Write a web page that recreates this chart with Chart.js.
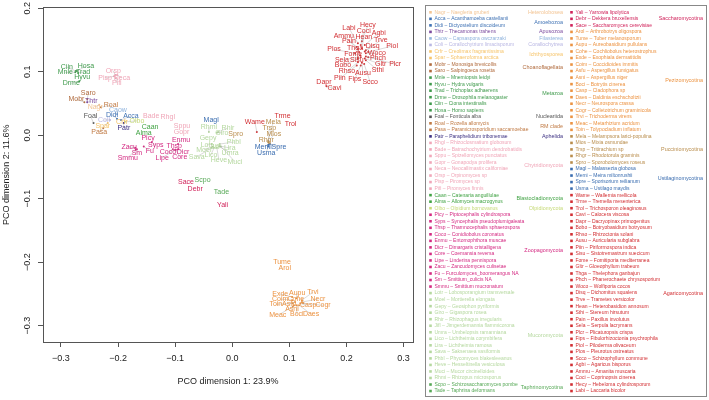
<!DOCTYPE html>
<html>
<head>
<meta charset="utf-8">
<script src="https://cdn.jsdelivr.net/npm/chart.js@4"></script>
<style>
html, body { margin: 0; padding: 0; background: #fff; }
canvas { display: block; }
</style>
</head>
<body>
<canvas id="pco" width="709" height="400"></canvas>
<script>
const FONT = "'Liberation Sans', Arial, Helvetica, sans-serif";

// taxonomic groups in legend order, with their colours
const groups = ["Heterolobosea", "Amoebozoa", "Apusozoa", "Filasterea", "Corallochytrea", "Ichthyosporea",
  "Choanoflagellata", "Metazoa", "Nucleariida", "RM clade", "Aphelida", "Chytridiomycota",
  "Blastocladiomycota", "Olpidiomycota", "Zoopagomycota", "Mucoromycota", "Taphrinomycotina",
  "Saccharomycotina", "Pezizomycotina", "Pucciniomycotina", "Ustilaginomycotina", "Agaricomycotina"];
const groupColors = ["#f3c595", "#3f72b4", "#7a4a9e", "#8fb3dd", "#b9b7e3", "#f6c46a",
  "#b06a3c", "#3f9a4c", "#555555", "#c07a44", "#3b2f80", "#f0a6b8",
  "#40a243", "#c6da78", "#d42a82", "#b5d89f", "#56a856",
  "#d0225a", "#ec9342", "#b98d4c", "#3a6db0", "#d22f33"];

// taxa (legend order: first 59 = left column, rest = right column)
const abbr = ["Nagr", "Acca", "Didi", "Thtr", "Caow", "Coli", "Crfr", "Spar", "Mobr", "Saro",
  "Mnle", "Hyvu", "Trad", "Drme", "Ciin", "Hosa", "Foal", "Roal", "Pasa", "Patr",
  "Rhgl", "Bade", "Sppu", "Gopr", "Neca", "Orsp", "Pisp", "Pifi", "Caan", "Alma",
  "Olbo", "Picy", "Syps", "Thsp", "Coco", "Enmu", "Dicr", "Core", "Lipe", "Zacu",
  "Fu", "Sm", "Smmu", "Lotr", "Moel", "Gepy", "Giro", "Rhir", "Jifl", "Umra",
  "Lico", "Lira", "Sava", "Phbl", "Heve", "Muci", "Rhmi", "Scpo", "Tade",
  "Yali", "Debr", "Sace", "Arol", "Tume", "Aupu", "Cohe", "Exde", "Coim", "Asfu",
  "Asni", "Boci", "Casp", "Daes", "Necr", "Cogr", "Trvi", "Meac", "Toin", "Mela",
  "Mios", "Trsp", "Rhgr", "Spro", "Magl", "Memi", "Spre", "Usma", "Wame", "Trme",
  "Trol", "Cavi", "Dapr", "Bobo", "Rhso", "Ausu", "Piin", "Sisu", "Fome", "Gltr",
  "Thga", "Phch", "Woco", "Disq", "Trve", "Hean", "Sthi", "Pain", "Sela", "Plcr",
  "Fips", "Piol", "Plos", "Scco", "Agbi", "Ammu", "Coci", "Hecy", "Labi"];
const fullName = ["Naegleria gruberi", "Acanthamoeba castellanii", "Dictyostelium discoideum", "Thecamonas trahens",
  "Capsaspora owczarzaki", "Corallochytrium limacisporum", "Creolimax fragrantissima", "Sphaeroforma arctica",
  "Monosiga brevicollis", "Salpingoeca rosetta", "Mnemiopsis leidyi", "Hydra vulgaris", "Trichoplax adhaerens",
  "Drosophila melanogaster", "Ciona intestinalis", "Homo sapiens", "Fonticula alba", "Rozella allomycis",
  "Paramicrosporidium saccamoebae", "Paraphelidium tribonemae", "Rhizoclosmatium globosum",
  "Batrachochytrium dendrobatidis", "Spizellomyces punctatus", "Gonapodya prolifera", "Neocallimastix californiae",
  "Orpinomyces sp", "Piromyces sp", "Piromyces finnis", "Catenaria anguillulae", "Allomyces macrogynus",
  "Olpidium bornovanus", "Piptocephalis cylindrospora", "Syncephalis pseudoplumigaleata",
  "Thamnocephalis sphaerospora", "Conidiobolus coronatus", "Entomophthora muscae", "Dimargaris cristalligena",
  "Coemansia reversa", "Linderina pennispora", "Zancudomyces culisetae", "Furculomyces_boomerangus NA",
  "Smittium_culicis NA", "Smittium mucronatum", "Lobosporangium transversale", "Mortierella elongata",
  "Geosiphon pyriformis", "Gigaspora rosea", "Rhizophagus irregularis", "Jimgerdemannia flammicorona",
  "Umbelopsis ramanniana", "Lichtheimia corymbifera", "Lichtheimia ramosa", "Saksenaea vasiformis",
  "Phycomyces blakesleeanus", "Hesseltinella vesiculosa", "Mucor circinelloides", "Rhizopus microsporus",
  "Schizosaccharomyces pombe", "Taphrina deformans",
  "Yarrowia lipolytica", "Dekkera bruxellensis", "Saccharomyces cerevisiae", "Arthrobotrys oligospora",
  "Tuber melanosporum", "Aureobasidium pullulans", "Cochliobolus heterostrophus", "Exophiala dermatitidis",
  "Coccidioides immitis", "Aspergillus fumigatus", "Aspergillus niger", "Botrytis cinerea", "Cladophora sp",
  "Daldinia eschscholtzii", "Neurospora crassa", "Colletotrichum graminicola", "Trichoderma virens",
  "Metarhizium acridum", "Tolypocladium inflatum", "Melampsora larici-populina", "Mixia osmundae",
  "Tritirachium sp", "Rhodotorula graminis", "Sporobolomyces roseus", "Malassezia globosa",
  "Meira miltonrushii", "Sporisorium reilianum", "Ustilago maydis", "Wallemia mellicola",
  "Tremella mesenterica", "Trichosporon oleaginosus", "Calocera viscosa", "Dacryopinax primogenitus",
  "Botryobasidium botryosum", "Rhizoctonia solani", "Auricularia subglabra", "Piriformospora indica",
  "Sistotremastrum suecicum", "Fomitiporia mediterranea", "Gloeophyllum trabeum", "Thelephora ganbajun",
  "Phanerochaete chrysosporium", "Wolfiporia cocos", "Dichomitus squalens", "Trametes versicolor",
  "Heterobasidion annosum", "Stereum hirsutum", "Paxillus involutus", "Serpula lacrymans",
  "Plicaturopsis crispa", "Fibulorhizoctonia psychrophila", "Piloderma olivaceum", "Pleurotus ostreatus",
  "Schizophyllum commune", "Agaricus bisporus", "Amanita muscaria", "Coprinopsis cinerea",
  "Hebeloma cylindrosporum", "Laccaria bicolor"];
const groupOf = ["Heterolobosea", "Amoebozoa", "Amoebozoa", "Apusozoa", "Filasterea", "Corallochytrea",
  "Ichthyosporea", "Ichthyosporea", "Choanoflagellata", "Choanoflagellata",
  "Metazoa", "Metazoa", "Metazoa", "Metazoa", "Metazoa", "Metazoa", "Nucleariida", "RM clade", "RM clade", "Aphelida",
  "Chytridiomycota", "Chytridiomycota", "Chytridiomycota", "Chytridiomycota", "Chytridiomycota", "Chytridiomycota",
  "Chytridiomycota", "Chytridiomycota", "Blastocladiomycota", "Blastocladiomycota", "Olpidiomycota",
  "Zoopagomycota", "Zoopagomycota", "Zoopagomycota", "Zoopagomycota", "Zoopagomycota", "Zoopagomycota",
  "Zoopagomycota", "Zoopagomycota", "Zoopagomycota", "Zoopagomycota", "Zoopagomycota", "Zoopagomycota",
  "Mucoromycota", "Mucoromycota", "Mucoromycota", "Mucoromycota", "Mucoromycota", "Mucoromycota", "Mucoromycota",
  "Mucoromycota", "Mucoromycota", "Mucoromycota", "Mucoromycota", "Mucoromycota", "Mucoromycota", "Mucoromycota",
  "Taphrinomycotina", "Taphrinomycotina",
  "Saccharomycotina", "Saccharomycotina", "Saccharomycotina",
  "Pezizomycotina", "Pezizomycotina", "Pezizomycotina", "Pezizomycotina", "Pezizomycotina", "Pezizomycotina",
  "Pezizomycotina", "Pezizomycotina", "Pezizomycotina", "Pezizomycotina", "Pezizomycotina", "Pezizomycotina",
  "Pezizomycotina", "Pezizomycotina", "Pezizomycotina", "Pezizomycotina",
  "Pucciniomycotina", "Pucciniomycotina", "Pucciniomycotina", "Pucciniomycotina", "Pucciniomycotina",
  "Ustilaginomycotina", "Ustilaginomycotina", "Ustilaginomycotina", "Ustilaginomycotina",
  "Agaricomycotina", "Agaricomycotina", "Agaricomycotina", "Agaricomycotina", "Agaricomycotina", "Agaricomycotina",
  "Agaricomycotina", "Agaricomycotina", "Agaricomycotina", "Agaricomycotina", "Agaricomycotina", "Agaricomycotina",
  "Agaricomycotina", "Agaricomycotina", "Agaricomycotina", "Agaricomycotina", "Agaricomycotina", "Agaricomycotina",
  "Agaricomycotina", "Agaricomycotina", "Agaricomycotina", "Agaricomycotina", "Agaricomycotina", "Agaricomycotina",
  "Agaricomycotina", "Agaricomycotina", "Agaricomycotina", "Agaricomycotina", "Agaricomycotina", "Agaricomycotina",
  "Agaricomycotina"];

// PCO coordinates (dimension 1, dimension 2)
const pcoX = [-0.233, -0.195, -0.202, -0.254, -0.202, -0.214, -0.195, -0.218, -0.259, -0.254,
  -0.275, -0.268, -0.270, -0.268, -0.274, -0.272, -0.243, -0.230, -0.226, -0.190,
  -0.113, -0.142, -0.088, -0.089, -0.202, -0.205, -0.207, -0.204, -0.144, -0.155,
  -0.188, -0.144, -0.141, -0.100, -0.104, -0.095, -0.095, -0.099, -0.100, -0.170,
  -0.155, -0.167, -0.169, -0.036, -0.034, -0.039, -0.027, -0.025, -0.030, -0.023,
  -0.032, -0.022, -0.036, -0.022, -0.027, -0.020, -0.041, -0.052, -0.019,
  -0.017, -0.065, -0.081, 0.092, 0.087, 0.112, 0.113, 0.105, 0.105, 0.110,
  0.108, 0.113, 0.119, 0.117, 0.122, 0.124, 0.122, 0.106, 0.106, 0.063,
  0.064, 0.063, 0.063, 0.006, -0.037, 0.063, 0.066, 0.063, 0.043, 0.088,
  0.102, 0.165, 0.164, 0.220, 0.220, 0.227, 0.218, 0.225, 0.224, 0.232,
  0.222, 0.234, 0.234, 0.232, 0.234, 0.227, 0.234, 0.220, 0.220, 0.238,
  0.225, 0.238, 0.215, 0.231, 0.232, 0.218, 0.225, 0.227, 0.220];
const pcoY = [0.048, 0.024, 0.026, 0.052, 0.033, 0.024, 0.021, 0.019, 0.052, 0.057,
  0.099, 0.095, 0.098, 0.085, 0.101, 0.101, 0.019, 0.044, 0.011, 0.019,
  0.029, 0.030, 0.015, 0.005, 0.095, 0.095, 0.093, 0.090, 0.012, 0.004,
  0.021, -0.009, -0.011, -0.018, -0.022, -0.014, -0.022, -0.023, -0.023, -0.020,
  -0.018, -0.022, -0.023, -0.014, -0.018, -0.009, 0.004, 0.005, -0.017, -0.018,
  -0.020, -0.017, -0.020, -0.014, -0.020, -0.018, 0.005, -0.071, -0.089,
  -0.110, -0.085, -0.074, -0.209, -0.200, -0.257, -0.260, -0.255, -0.260, -0.263,
  -0.268, -0.268, -0.265, -0.268, -0.263, -0.265, -0.260, -0.270, -0.265, -0.009,
  -0.011, -0.011, -0.012, 0.002, 0.024, -0.015, -0.014, -0.018, 0.005, 0.030,
  0.017, 0.077, 0.079, 0.120, 0.115, 0.114, 0.110, 0.123, 0.126, 0.121,
  0.131, 0.124, 0.129, 0.132, 0.134, 0.137, 0.118, 0.136, 0.123, 0.123,
  0.110, 0.131, 0.129, 0.112, 0.142, 0.139, 0.142, 0.148, 0.145];

const xTicks = [-0.3, -0.2, -0.1, 0.0, 0.1, 0.2, 0.3];
const yTicks = [-0.3, -0.2, -0.1, 0.0, 0.1, 0.2];

// where the repelled text labels sit relative to their point (pixels, layout only)
const nudge = {
  Nagr: [-4, 2], Acca: [10, -4], Didi: [-5, -4], Thtr: [4, -1], Caow: [1, -4], Coli: [-6, 0], Crfr: [1, 0],
  Spar: [-5, 3], Mobr: [-8, -3], Saro: [1, -6], Mnle: [-10, 0], Hyvu: [3, 2], Trad: [5, -1], Drme: [-8, 2],
  Ciin: [-9, -4], Hosa: [9, -5], Foal: [-3, -7], Roal: [10, -2], Pasa: [-4, 4], Patr: [0, 5],
  Neca: [5, 3], Orsp: [-2, -4], Pisp: [-9, 2], Pifi: [1, 5], Olbo: [12, -1],
  Picy: [-2, -3], Syps: [4, 3], Thsp: [-1, -1], Coco: [-5, 3], Enmu: [3, -4], Dicr: [5, 3], Core: [4, 7],
  Lipe: [-13, 8], Zacu: [-6, -1], Fu: [6, 4], Sm: [0, 4], Smmu: [-8, 8],
  Lotr: [-5, 1], Moel: [-9, 3], Gepy: [-2, -3], Giro: [5, 0], Rhir: [10, -4], Jifl: [0, 1], Umra: [11, 6],
  Lico: [-3, 7], Lira: [10, 2], Sava: [-15, 9], Phbl: [14, -2], Heve: [2, 12], Muci: [14, 15], Rhmi: [0, -5],
  Aupu: [1, -5], Cohe: [-1, -1], Exde: [-12, -3], Coim: [-12, -1], Asfu: [-6, 2], Asni: [-2, 4], Boci: [0, 9],
  Casp: [8, 2], Daes: [12, 9], Necr: [16, -3], Cogr: [20, 2], Trvi: [11, -8], Meac: [-15, 9], Toin: [-17, 1],
  Mela: [5, -19], Mios: [5, -8], Trsp: [1, -14], Rhgr: [-2, -3], Memi: [-5, 2], Spre: [9, 3], Usma: [-2, 6],
  Wame: [-2, -10], Cavi: [8, 2], Dapr: [-2, -3], Bobo: [-15, 6], Rhso: [-11, 9], Ausu: [1, 10], Piin: [-17, 13],
  Sisu: [-4, 3], Fome: [-7, -1], Gltr: [16, 6], Thga: [-4, -4], Phch: [12, 2], Woco: [11, 0], Disq: [8, -5],
  Trve: [15, -10], Hean: [2, -11], Sthi: [12, 10], Pain: [-9, -8], Sela: [-16, 3], Plcr: [27, 7], Fips: [-6, 14],
  Piol: [24, -6], Plos: [-21, -4], Scco: [6, 18], Agbi: [14, -12], Ammu: [-13, -11], Coci: [3, -14],
  Hecy: [6, -16], Labi: [-9, -15]
};

const colorOf = g => groupColors[groups.indexOf(g)];

const datasets = groups.map(g => {
  const idx = abbr.map((a, i) => i).filter(i => groupOf[i] === g);
  return {
    label: g,
    taxa: idx,
    data: idx.map(i => ({ x: pcoX[i], y: pcoY[i] })),
    backgroundColor: colorOf(g),
    borderWidth: 0,
    pointRadius: idx.map(i => {
      const n = nudge[abbr[i]];
      return n && Math.hypot(n[0], n[1]) >= 4 ? 1 : 0;
    })
  };
});

const fmt = v => (Math.abs(v) < 1e-9 ? "0.0" : Number(v).toFixed(1)).replace("-", "\u2212");

// text labels + connector lines
const pointLabels = {
  id: "pointLabels",
  afterDatasetsDraw(chart) {
    const ctx = chart.ctx;
    ctx.save();
    chart.data.datasets.forEach((ds, d) => {
      const meta = chart.getDatasetMeta(d);
      meta.data.forEach((el, k) => {
        const i = ds.taxa[k];
        const n = nudge[abbr[i]] || [0, 0];
        if (Math.hypot(n[0], n[1]) >= 4) {
          ctx.strokeStyle = "rgba(150,150,150,0.6)";
          ctx.lineWidth = 0.6;
          ctx.beginPath();
          ctx.moveTo(el.x, el.y);
          ctx.lineTo(el.x + n[0], el.y + n[1]);
          ctx.stroke();
        }
      });
    });
    ctx.font = "7px " + FONT;
    ctx.textAlign = "center";
    ctx.textBaseline = "middle";
    chart.data.datasets.forEach((ds, d) => {
      const meta = chart.getDatasetMeta(d);
      meta.data.forEach((el, k) => {
        const i = ds.taxa[k];
        const n = nudge[abbr[i]] || [0, 0];
        ctx.fillStyle = ds.backgroundColor;
        ctx.fillText(abbr[i], el.x + n[0], el.y + n[1]);
      });
    });
    ctx.restore();
  }
};

// box round the plot region
const plotBox = {
  id: "plotBox",
  afterDraw(chart) {
    const { left, top, right, bottom } = chart.chartArea;
    const ctx = chart.ctx;
    ctx.save();
    ctx.strokeStyle = "#555";
    ctx.lineWidth = 1;
    ctx.strokeRect(Math.round(left) + 0.5, Math.round(top) + 0.5, Math.round(right - left), Math.round(bottom - top));
    ctx.restore();
  }
};

// two-column legend with group names
const sideLegend = {
  id: "sideLegend",
  afterDraw(chart) {
    const ctx = chart.ctx;
    const perCol = 59;
    const rowH = 6.53, y0 = 12.3;
    const cols = [{ mark: 430.5, right: 563 }, { mark: 571.5, right: 703 }];
    ctx.save();
    ctx.strokeStyle = "#888";
    ctx.lineWidth = 1;
    ctx.strokeRect(425.5, 5.5, 281, 391);
    ctx.font = "5px " + FONT;
    ctx.textBaseline = "middle";
    abbr.forEach((a, i) => {
      const c = cols[Math.floor(i / perCol)];
      const y = y0 + (i % perCol) * rowH;
      const col = colorOf(groupOf[i]);
      ctx.fillStyle = col;
      ctx.fillRect(c.mark - 1.3, y - 1.3, 2.6, 2.6);
      ctx.textAlign = "left";
      ctx.fillText(a + " \u2013 " + fullName[i], c.mark + 4, y);
    });
    ctx.font = "5.4px " + FONT;
    ctx.textAlign = "right";
    groups.forEach((g, gi) => {
      const rows = abbr.map((a, i) => i).filter(i => groupOf[i] === g);
      const c = cols[Math.floor(rows[0] / perCol)];
      const mid = rows.reduce((s, i) => s + (i % perCol), 0) / rows.length;
      ctx.fillStyle = groupColors[gi];
      ctx.fillText(g, c.right, y0 + mid * rowH);
    });
    ctx.restore();
  }
};

new Chart(document.getElementById("pco"), {
  type: "scatter",
  data: { datasets },
  options: {
    responsive: false,
    animation: false,
    layout: { padding: { top: 6, right: 296, left: 0, bottom: 0 } },
    plugins: { legend: { display: false }, tooltip: { enabled: false } },
    scales: {
      x: {
        type: "linear",
        min: -0.3315,
        max: 0.3165,
        afterFit: s => { s.height = 58; },
        afterBuildTicks: s => { s.ticks = xTicks.map(v => ({ value: v })); },
        grid: { drawOnChartArea: false, tickLength: 5, color: "#555" },
        border: { color: "#555" },
        ticks: { padding: 6, color: "#222", font: { size: 9, family: FONT }, callback: fmt, maxRotation: 0, autoSkip: false },
        title: { display: true, text: "PCO dimension 1: 23.9%", color: "#222", font: { size: 9, family: FONT }, padding: { top: 0, bottom: 13 } }
      },
      y: {
        type: "linear",
        min: -0.326,
        max: 0.2014,
        afterFit: s => { s.width = 43; },
        afterBuildTicks: s => { s.ticks = yTicks.map(v => ({ value: v })); },
        grid: { drawOnChartArea: false, tickLength: 5, color: "#555" },
        border: { color: "#555" },
        ticks: { padding: 2, color: "#222", font: { size: 9, family: FONT }, callback: fmt, minRotation: 90, maxRotation: 90, crossAlign: "center", autoSkip: false },
        title: { display: true, text: "PCO dimension 2: 11.6%", color: "#222", font: { size: 9, family: FONT }, padding: { top: 1, bottom: 0 } }
      }
    }
  },
  plugins: [pointLabels, plotBox, sideLegend]
});
</script>
</body>
</html>
